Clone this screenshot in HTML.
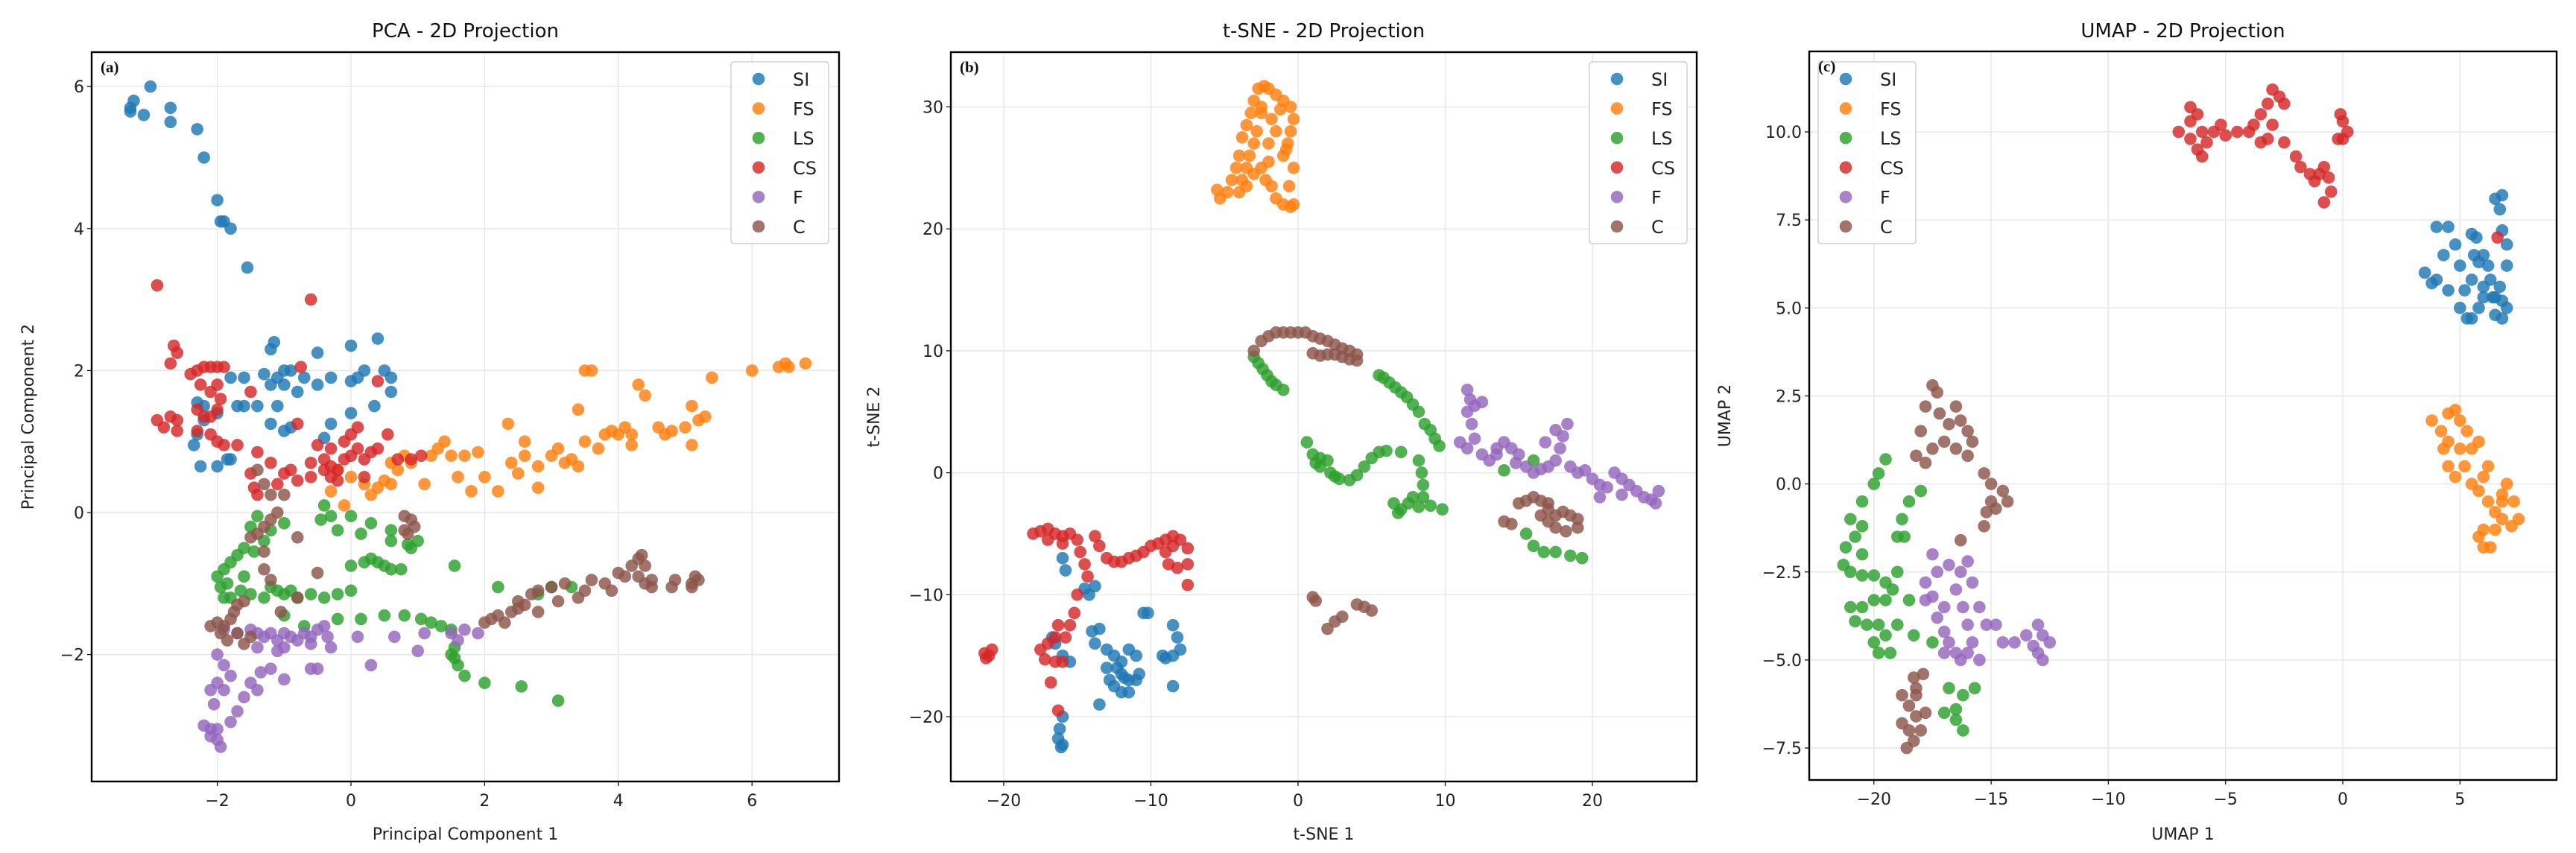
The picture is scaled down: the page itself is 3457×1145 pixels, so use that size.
<!DOCTYPE html>
<html><head><meta charset="utf-8">
<style>
html,body{margin:0;padding:0;background:#fff;}
svg{display:block;font-family:"DejaVu Sans","Liberation Sans",sans-serif;}
</style></head>
<body>
<svg id="fig" width="3457" height="1145" viewBox="0 0 3457 1145" xmlns="http://www.w3.org/2000/svg"></svg>
<script>
const classNames = ["SI","FS","LS","CS","F","C"];
const classColors = ["#1f77b4","#ff7f0e","#2ca02c","#d62728","#9467bd","#8c564b"];

// ---- PCA data ----
const pcaSI = [[-3.3,5.7],[-3.25,5.8],[-3.3,5.65],[-3.0,6.0],[-3.1,5.6],[-2.7,5.7],[-2.7,5.5],[-2.3,5.4],[-2.2,5.0],[-2.0,4.4],[-1.95,4.1],[-1.9,4.1],[-1.8,4.0],[-1.55,3.45],[-1.15,2.4],[-1.2,2.3],[-0.5,2.25],[0,2.35],[0.4,2.45],[-1.3,1.95],[-1.1,1.9],[-1.0,2.0],[-0.9,2.0],[-1.2,1.8],[-1.0,1.8],[-0.8,1.7],[-1.4,1.5],[-1.6,1.5],[-1.7,1.5],[-1.8,1.9],[-1.6,1.9],[-0.7,1.9],[-0.5,1.8],[-0.3,1.9],[0,1.85],[0.1,1.9],[0.2,2.0],[0.5,2.0],[0.6,1.9],[0.6,1.7],[0.35,1.5],[0,1.4],[-0.3,1.25],[-1.2,1.25],[-1.0,1.15],[-0.9,1.2],[-2.3,1.55],[-2.2,1.5],[-2.3,1.1],[-2.35,0.95],[-2.2,1.3],[-2.0,1.4],[-1.85,0.75],[-1.8,0.75],[-2.0,0.65],[-2.25,0.65],[-0.4,1.05],[-1.1,1.5]];
const pcaFS = [[-0.3,0.3],[-0.1,0.1],[0,0.5],[0.2,0.4],[0.3,0.25],[0.4,0.35],[0.5,0.45],[0.6,0.4],[0.7,0.6],[0.8,0.8],[0.6,0.7],[0.9,0.7],[1.1,0.4],[1.2,0.8],[1.3,0.9],[1.4,1.0],[1.5,0.8],[1.6,0.5],[1.7,0.8],[1.8,0.3],[1.9,0.85],[2.0,0.5],[2.2,0.3],[2.35,1.25],[2.4,0.7],[2.5,0.55],[2.6,0.8],[2.6,1.0],[2.8,0.35],[2.8,0.65],[3.0,0.8],[3.1,0.9],[3.2,0.7],[3.3,0.75],[3.4,1.45],[3.5,1.0],[3.4,0.65],[3.5,2.0],[3.6,2.0],[3.7,0.9],[3.8,1.1],[3.9,1.15],[4.0,1.1],[4.1,1.2],[4.2,1.1],[4.2,0.95],[4.3,1.8],[4.4,1.65],[4.6,1.2],[4.7,1.1],[4.8,1.15],[5.0,1.2],[5.1,0.95],[5.1,1.5],[5.2,1.3],[5.3,1.35],[5.4,1.9],[6.0,2.0],[6.4,2.05],[6.5,2.1],[6.55,2.05],[6.8,2.1],[-0.2,0.6]];
const pcaLS = [[-1.4,-0.05],[-1.5,-0.2],[-1.3,-0.4],[-1.6,-0.5],[-1.7,-0.6],[-1.8,-0.7],[-1.9,-0.8],[-2.0,-0.9],[-1.95,-1.05],[-1.9,-1.2],[-1.8,-1.2],[-1.65,-1.1],[-1.5,-1.15],[-1.3,-1.2],[-1.2,-1.05],[-1.1,-1.1],[-1.0,-1.15],[-0.9,-1.1],[-0.8,-1.2],[-0.6,-1.15],[-0.4,-1.2],[-0.2,-1.15],[0,-1.1],[0,-0.75],[0.2,-0.7],[0.3,-0.65],[0.4,-0.7],[0.5,-0.75],[0.6,-0.8],[0.75,-0.8],[0.85,-0.45],[0.9,-0.5],[1.0,-0.4],[0.6,-0.25],[0.6,-0.4],[0.3,-0.15],[0.15,-0.3],[-0.2,-0.25],[-0.4,0.1],[-0.45,-0.1],[-0.3,-0.05],[0,-0.05],[-1.2,-0.25],[-1.0,-0.15],[-0.2,-1.5],[0.15,-1.5],[0.5,-1.45],[0.8,-1.45],[1.05,-1.5],[1.2,-1.55],[1.35,-1.6],[1.5,-1.65],[1.55,-1.9],[1.5,-2.0],[1.55,-2.05],[1.6,-2.15],[1.7,-2.3],[2.0,-2.4],[2.55,-2.45],[3.1,-2.65],[1.55,-0.75],[2.2,-1.05],[2.8,-1.15],[3.0,-1.05],[3.3,-1.05],[-0.7,-1.6],[-1.0,-1.45],[-1.6,-0.9],[-1.45,-0.55],[-1.85,-1.0]];
const pcaCS = [[-2.9,3.2],[-0.6,3.0],[-2.65,2.35],[-2.7,2.1],[-2.6,2.25],[-2.4,1.95],[-2.3,2.0],[-2.2,2.05],[-2.1,2.05],[-2.0,2.05],[-1.9,2.05],[-2.25,1.8],[-2.1,1.7],[-2.0,1.8],[-1.95,1.6],[-2.3,1.45],[-2.2,1.35],[-2.1,1.35],[-2.0,1.45],[-2.9,1.3],[-2.8,1.2],[-2.7,1.35],[-2.6,1.3],[-2.6,1.15],[-2.3,1.15],[-2.1,1.1],[-2.0,1.0],[-1.9,0.95],[-1.7,0.95],[-1.4,0.85],[-1.5,1.7],[-1.4,0.25],[-1.45,0.35],[-1.2,0.7],[-1.0,0.55],[-0.9,0.6],[-0.8,0.45],[-0.6,0.5],[-0.4,0.6],[-0.3,0.65],[-0.2,0.6],[-0.4,0.75],[-0.3,0.5],[-0.1,0.75],[0,0.8],[0.1,0.9],[0.2,0.75],[0.3,0.85],[0,1.1],[0.1,1.2],[-0.1,1.0],[-0.3,0.9],[0.4,0.9],[0.55,1.1],[0.7,0.75],[0.9,0.75],[1.05,0.8],[0.4,1.85],[-0.8,1.25],[-0.75,2.05],[-0.5,0.95],[-0.6,0.7],[0.2,0.5],[-0.2,0.45],[-1.1,0.4],[-1.5,0.55]];
const pcaF = [[-1.9,-1.65],[-1.7,-1.7],[-1.5,-1.65],[-1.4,-1.7],[-1.3,-1.75],[-1.2,-1.7],[-1.1,-1.8],[-1.0,-1.7],[-0.9,-1.75],[-0.8,-1.8],[-0.7,-1.7],[-0.6,-1.75],[-0.5,-1.65],[-0.4,-1.6],[-0.35,-1.75],[-0.3,-1.9],[-0.6,-1.85],[-1.0,-1.9],[-1.1,-1.95],[-1.4,-1.9],[0.1,-1.75],[0.65,-1.75],[1.1,-1.7],[1.5,-1.7],[1.6,-1.8],[1.7,-1.65],[1.9,-1.7],[1.0,-1.95],[0.3,-2.15],[-0.6,-2.2],[-0.5,-2.2],[-1.0,-2.35],[-1.2,-2.2],[-1.35,-2.25],[-1.5,-2.4],[-1.4,-2.5],[-1.6,-2.6],[-1.7,-2.8],[-1.8,-2.95],[-1.8,-2.3],[-1.9,-2.15],[-2.0,-2.0],[-2.0,-2.4],[-2.1,-2.5],[-2.05,-2.7],[-2.2,-3.0],[-2.1,-3.05],[-2.0,-3.05],[-2.0,-3.2],[-1.95,-3.3],[-2.1,-3.15],[-1.9,-2.5]];
const pcaC = [[-1.4,0.6],[-1.3,0.4],[-1.2,0.25],[-1.0,0.25],[-1.1,0.0],[-1.2,-0.1],[-1.3,-0.2],[-1.4,-0.3],[-1.5,-0.35],[-1.3,-0.55],[-0.8,-0.35],[-0.5,-0.85],[-1.3,-0.8],[-1.2,-0.95],[-0.8,-1.2],[-1.05,-1.4],[-1.6,-1.25],[-1.7,-1.3],[-1.75,-1.4],[-1.8,-1.5],[-2.0,-1.55],[-2.1,-1.6],[-1.9,-1.6],[-1.85,-1.8],[-1.7,-1.7],[-1.6,-1.85],[-1.5,-1.75],[-1.95,-1.7],[0.8,-0.05],[0.9,-0.1],[0.85,-0.3],[0.95,-0.2],[0.8,-0.25],[2.0,-1.55],[2.1,-1.5],[2.2,-1.45],[2.3,-1.55],[2.4,-1.4],[2.5,-1.35],[2.6,-1.3],[2.7,-1.15],[2.8,-1.1],[2.8,-1.4],[3.0,-1.05],[3.1,-1.25],[3.2,-1.0],[3.4,-1.2],[3.5,-1.1],[3.6,-0.95],[3.8,-1.0],[3.9,-1.1],[4.0,-0.85],[4.1,-0.9],[4.2,-0.75],[4.3,-0.65],[4.35,-0.6],[4.4,-0.75],[4.4,-1.0],[4.5,-0.95],[4.5,-1.05],[4.3,-0.9],[4.8,-1.05],[4.85,-0.95],[5.1,-1.0],[5.15,-0.9],[5.2,-0.95],[5.1,-1.05],[2.5,-1.25]];
const pcaXTicks = [-2,0,2,4,6];
const pcaYTicks = [-2,0,2,4,6];

// ---- t-SNE data ----
const tsneSI = [[-16,-7],[-15.8,-8],[-14.5,-9.5],[-14.2,-10],[-13.8,-9.3],[-14,-13],[-13.5,-12.8],[-13.8,-14],[-13,-14.5],[-12.5,-15],[-12,-15.5],[-11.5,-14.5],[-11,-15],[-12,-16.5],[-11.5,-17],[-12.5,-17.5],[-11,-17],[-10.8,-16.5],[-13,-16],[-12.8,-17],[-12,-18],[-11.5,-18],[-10.5,-11.5],[-10.2,-11.5],[-8.5,-12.5],[-8.2,-13.5],[-8,-14.5],[-8.5,-15],[-9,-15.2],[-9.2,-15],[-13.5,-19],[-8.5,-17.5],[-16.5,-14],[-16,-15],[-15.5,-15.5],[-16,-20],[-16.2,-21],[-16,-22.3],[-16.1,-22.5],[-16.3,-21.8],[-16.7,-13.5],[-12.3,-16],[-11.8,-16.8]];
const tsneFS = [[-5.5,23.2],[-5.3,22.5],[-4.8,23],[-4.5,24],[-4.2,25],[-4,26],[-3.8,27.5],[-3.5,28.5],[-3.2,29.5],[-3,30.5],[-2.7,31.5],[-2.3,31.7],[-2,31.5],[-1.5,31],[-1,30.5],[-0.5,30],[-0.3,29],[-0.5,28],[-0.7,27],[-0.8,26.5],[-1.5,28],[-1.8,29],[-2.5,29.5],[-2.8,28],[-3,27],[-3.3,26],[-3.5,25],[-3.8,24],[-4,23],[-3.5,23.5],[-3,24.5],[-2.5,25],[-2,25.5],[-2.2,24],[-1.8,23.5],[-1.5,22.5],[-1,22],[-0.5,21.8],[-0.3,22],[-0.6,23.5],[-0.3,25],[-1,26],[-2,27],[-2.5,30],[-1.2,29.8]];
const tsneLS = [[-3,9.5],[-2.7,9],[-2.4,8.5],[-2.1,8],[-1.8,7.5],[-1.5,7.2],[-1,6.8],[5.5,8],[5.8,7.8],[6.2,7.4],[6.6,7],[7,6.6],[7.4,6.2],[7.8,5.6],[8.2,5],[8.6,4],[9,3.5],[9.3,2.8],[9.6,2.2],[0.6,2.5],[1,1.5],[1.5,1.2],[2,1],[1.5,0.5],[2.2,0],[2.8,-0.5],[3.5,-0.6],[4,-0.2],[4.5,0.5],[5,1.2],[5.5,1.7],[6,1.8],[7,1.7],[8.2,1],[8.4,0],[8.5,-1],[8.5,-2],[8.2,-2.8],[7.5,-2.5],[7,-3],[6.5,-2.5],[6.8,-3.3],[7.8,-2],[9,-2.7],[9.8,-3],[15.5,-5],[16,-6],[16.7,-6.5],[17.5,-6.5],[18.5,-6.8],[19.3,-7],[16,1],[14,0.2],[1.2,0.8],[2.5,-0.3]];
const tsneCS = [[-18,-5],[-17.5,-4.8],[-17,-4.6],[-16.5,-5],[-16,-5.2],[-15.5,-5],[-15,-5.5],[-14.8,-6.5],[-14.5,-7.5],[-14.3,-8.5],[-15,-10],[-13.8,-5.2],[-13.5,-6],[-13,-7],[-12.5,-7.3],[-12,-7.3],[-11.5,-7],[-11,-6.8],[-10.5,-6.5],[-10,-6],[-9.5,-5.8],[-9,-5.5],[-8.5,-5.2],[-8,-5.5],[-9,-6.5],[-8.5,-6],[-7.5,-6.2],[-8.2,-7.8],[-8.8,-7.5],[-7.5,-7.5],[-7.5,-9.2],[-15.2,-11.5],[-15.5,-12.5],[-15.8,-13.5],[-16.3,-12.5],[-16.5,-13.5],[-17,-14],[-17.5,-14.5],[-17.2,-15.3],[-16.5,-15.5],[-16,-15.5],[-16.8,-17.2],[-16.3,-19.5],[-21.3,-14.8],[-21,-15],[-20.8,-14.5],[-21.2,-15.2],[-16,-5.8],[-17,-5.5]];
const tsneF = [[11.5,6.8],[11.7,6],[12,5.5],[12.5,5.8],[11.5,5],[11.8,4],[11,2.5],[11.5,2],[12,2.8],[12.5,1.5],[13,1],[13.5,2],[14,2.5],[14.5,2],[15,1.5],[15.5,0.5],[16,0],[16.5,0.3],[17,0.5],[17.5,1],[17.8,2],[18,3],[18.3,4],[17.5,3.5],[16.8,2.5],[18.5,0.5],[19,0],[19.5,0.2],[20,-0.5],[20.5,-1],[21,-1.2],[21.5,0],[22,-0.5],[22.5,-1],[23,-1.5],[23.5,-2],[24,-2.2],[24.5,-1.5],[24.3,-2.5],[20.5,-2],[22,-1.8],[13.5,1.5],[14.8,0.8]];
const tsneC = [[-3,10],[-2.5,10.8],[-2,11.2],[-1.5,11.5],[-1,11.5],[-0.5,11.5],[0,11.5],[0.5,11.5],[1,11.2],[1.5,11],[2,10.8],[2.5,10.5],[3,10.2],[3.5,10],[4,9.7],[4,9.2],[3.5,9.3],[3,9.5],[2.5,9.7],[2,9.7],[1.5,9.6],[1,9.8],[15,-2.5],[15.5,-2.3],[16,-2],[16.5,-2.3],[17,-2.5],[17,-3],[17.5,-3.5],[18,-3.2],[18.5,-3.5],[19,-3.8],[19,-4.5],[18.2,-4.8],[17.5,-4.5],[17,-4],[16.5,-3.5],[14,-4],[14.5,-4.2],[1,-10.2],[1.2,-10.5],[2,-12.8],[2.5,-12.2],[3,-11.8],[4,-10.8],[4.5,-11],[5,-11.3]];
const tsneXTicks = [-20,-10,0,10,20];
const tsneYTicks = [-20,-10,0,10,20,30];

// ---- UMAP data ----
const umapSI = [[3.5,6],[4,5.8],[4,7.3],[4.5,7.3],[4.8,6.8],[5,6.2],[5.2,5.5],[5,5],[5.3,4.7],[5.5,4.7],[5.8,5],[5.5,5.8],[5.6,6.5],[5.7,7],[5.5,7.1],[5.8,6.3],[6,6.5],[6,5.6],[6.3,5.8],[6.5,5.3],[6.8,5.2],[7,5],[6.8,4.7],[6.5,4.8],[6.7,5.6],[7,6.2],[7,6.8],[6.8,7.2],[6.7,7.8],[6.8,8.2],[6.5,8.1],[6.4,5.3],[6,5.3],[4.5,5.5],[4.3,6.5],[6.2,6.2],[3.8,5.7]];
const umapFS = [[3.8,1.8],[4.2,1.5],[4.5,2],[4.8,2.1],[5,1.8],[5.3,1.5],[4.3,1],[4.5,0.5],[4.8,0.2],[5.2,0.5],[5.5,1],[5.8,1.2],[5.5,0],[5.8,-0.2],[6,0.2],[6.2,-0.5],[6.5,-0.8],[6.8,-0.3],[7,0],[7.3,-0.5],[7.5,-1],[7.2,-1.2],[6.8,-1],[6.5,-1.3],[6,-1.3],[5.8,-1.5],[6,-1.8],[6.3,-1.8],[6.8,-0.5],[6.2,0.5],[5,1],[4.5,1.2]];
const umapLS = [[-19.5,0.7],[-19.8,0.3],[-20,0],[-20.5,-0.5],[-21,-1],[-20.8,-1.5],[-21.2,-1.8],[-20.5,-2],[-21,-2.5],[-21.3,-2.3],[-20.5,-2.6],[-20,-2.6],[-19.5,-2.8],[-19,-2.5],[-19.2,-3],[-19.5,-3.3],[-20,-3.3],[-20.5,-3.5],[-21,-3.5],[-20.8,-3.9],[-20.3,-4],[-19.8,-4],[-19.5,-4.3],[-20,-4.5],[-19.8,-4.8],[-19.3,-4.8],[-19,-4],[-18.5,-3.3],[-18.3,-4.3],[-18,-0.2],[-18.5,-0.5],[-18.8,-1],[-18.7,-1.5],[-19,-1.5],[-17.5,-4.5],[-16.8,-5.8],[-16.2,-6],[-15.7,-5.8],[-17,-6.5],[-16.5,-6.7],[-16.2,-7],[-16.5,-6.4],[-20.5,-1.2]];
const umapCS = [[-7,10],[-6.5,10.3],[-6.2,10.5],[-6,10],[-6.5,9.8],[-6.2,9.5],[-5.8,9.7],[-5.5,10],[-5.2,10.2],[-5,9.9],[-4.5,10],[-4,10],[-3.8,10.2],[-3.5,10.5],[-3.2,10.8],[-3,11.2],[-2.7,11],[-2.5,10.8],[-3,10.2],[-3.2,9.8],[-3.5,9.7],[-2.5,9.7],[-2,9.3],[-1.8,9],[-1.4,8.8],[-1,8.8],[-0.8,9],[-0.6,8.7],[-0.5,8.3],[-0.8,8],[-1.2,8.6],[-0.2,9.8],[0,10.3],[0.2,10],[0,9.8],[-0.1,10.5],[6.6,7],[-6,9.3],[-6.5,10.7]];
const umapF = [[-17.5,-2],[-17.3,-2.5],[-17.8,-2.8],[-17.5,-3.2],[-17,-3.5],[-17.3,-3.8],[-17,-4.2],[-16.8,-4.5],[-16.5,-4.8],[-16.3,-5],[-16,-4.8],[-15.8,-4.5],[-16,-4],[-16.2,-3.5],[-16.5,-3],[-16.3,-2.5],[-16,-2.2],[-15.8,-2.8],[-15.5,-3.5],[-15.2,-4],[-14.8,-4],[-14.5,-4.5],[-14,-4.5],[-13.5,-4.3],[-13,-4],[-12.8,-4.3],[-12.5,-4.5],[-13,-4.8],[-12.8,-5],[-13.2,-4.6],[-15.5,-5],[-17,-4.8],[-16.8,-2.3],[-17.8,-3.3]];
const umapC = [[-17.5,2.8],[-17.3,2.6],[-17.8,2.2],[-17.2,2],[-16.5,2.2],[-16.3,1.8],[-16,1.5],[-15.8,1.2],[-16,0.8],[-16.5,1],[-17,1.2],[-17.5,1],[-18,1.5],[-18.2,0.8],[-17.8,0.6],[-16.8,1.7],[-15.3,0.3],[-15,0],[-14.5,-0.2],[-14.3,-0.5],[-14.8,-0.7],[-15.2,-0.8],[-15.3,-1.2],[-15,-0.5],[-16.3,-1.6],[-18.3,-5.5],[-18.8,-6],[-18.5,-6.3],[-18.2,-6],[-18.8,-6.8],[-18.5,-7],[-18.3,-7.3],[-18,-7],[-18.6,-7.5],[-18.2,-5.8],[-17.8,-6.5],[-18.2,-6.6],[-17.9,-5.4]];
const umapXTicks = [-20,-15,-10,-5,0,5];
const umapYTicks = [-7.5,-5.0,-2.5,0.0,2.5,5.0,7.5,10.0];

const NS = "http://www.w3.org/2000/svg";
const svg = document.getElementById("fig");
function mk(tag, attrs, parent){ const e=document.createElementNS(NS,tag); for(const k in attrs) e.setAttribute(k,attrs[k]); (parent||svg).appendChild(e); return e; }

function drawPanel(cfg){
  const g = mk("g",{});
  
  
  const sx = v => cfg.px0 + (v - cfg.x0) * cfg.kx;
  const sy = v => cfg.py0 - (v - cfg.y0) * cfg.ky;
  cfg.xt.forEach(t=>{
    const l = mk("line",{x1:sx(t),x2:sx(t),y1:cfg.top,y2:cfg.bottom,stroke:"#e8e8e8","stroke-width":1.5},g);
    
    
  });
  cfg.yt.forEach(t=>{
    const l = mk("line",{x1:cfg.left,x2:cfg.right,y1:sy(t),y2:sy(t),stroke:"#e8e8e8","stroke-width":1.5},g);
    
    
  });
  cfg.series.forEach((pts,ci)=>{
    const sg = mk("g",{fill:classColors[ci],"fill-opacity":0.82},g);
    
    
    pts.forEach(p=>{
      const c = mk("circle",{cx:sx(p[0]),cy:sy(p[1]),r:8.3},sg);
      
      
    });
  });
  const fr = mk("rect",{x:cfg.left,y:cfg.top,width:cfg.right-cfg.left,height:cfg.bottom-cfg.top,fill:"none",stroke:"#000","stroke-width":2.4},g);
  
  
  cfg.xt.forEach(t=>{
    mk("line",{x1:sx(t),x2:sx(t),y1:cfg.bottom,y2:cfg.bottom+6,stroke:"#000","stroke-width":1.2},g);
    const tx = mk("text",{x:sx(t),y:cfg.bottom+33,"text-anchor":"middle","font-size":22,fill:"#222"},g);
    tx.textContent = String(t).replace("-","\u2212");
    
    
  });
  cfg.yt.forEach(t=>{
    mk("line",{x1:cfg.left-6,x2:cfg.left,y1:sy(t),y2:sy(t),stroke:"#000","stroke-width":1.2},g);
    const tx = mk("text",{x:cfg.left-10,y:sy(t)+8,"text-anchor":"end","font-size":22,fill:"#222"},g);
    tx.textContent = (cfg.yfmt ? t.toFixed(1) : String(t)).replace("-","\u2212");
    
    
  });
  const cx = (cfg.left+cfg.right)/2, cy=(cfg.top+cfg.bottom)/2;
  const ti = mk("text",{x:cx,y:50,"text-anchor":"middle","font-size":26,fill:"#111"},g);
  ti.textContent = cfg.title;
  
  
  const xl = mk("text",{x:cx,y:1127,"text-anchor":"middle","font-size":22,fill:"#222"},g);
  xl.textContent = cfg.xlabel;
  
  
  const yl = mk("text",{x:0,y:0,"text-anchor":"middle","font-size":22,fill:"#222",transform:`translate(${cfg.ylx},${cy}) rotate(-90)`},g);
  yl.textContent = cfg.ylabel;
  
  
  const lg = mk("g",{},g);
  
  
  mk("rect",{x:cfg.lgx,y:83,width:131,height:244,rx:4,fill:"#fff","fill-opacity":0.85,stroke:"#d0d0d0","stroke-width":1.5},lg);
  classNames.forEach((n,i)=>{
    const yy = 106 + i*39.6;
    const e = mk("g",{},lg);
    
    
    mk("circle",{cx:cfg.lgx+37,cy:yy,r:8.3,fill:classColors[i],"fill-opacity":0.82},e);
    const t = mk("text",{x:cfg.lgx+83,y:yy+9,"font-size":24,fill:"#222"},e);
    t.textContent = n;
  });
  const pl = mk("text",{x:cfg.left+12,y:cfg.top+27,"font-size":21,"font-family":"Liberation Serif, serif","font-weight":"bold",fill:"#111"},g);
  pl.textContent = cfg.letter;
  
  
}

drawPanel({id:"pca",title:"PCA - 2D Projection",xlabel:"Principal Component 1",ylabel:"Principal Component 2",letter:"(a)",
  left:123,right:1126,top:70,bottom:1049,px0:471,x0:0,kx:89.7,py0:688,y0:0,ky:95.3,
  xt:pcaXTicks,yt:pcaYTicks,ylx:45,lgx:981,series:[pcaSI,pcaFS,pcaLS,pcaCS,pcaF,pcaC]});
drawPanel({id:"tsne",title:"t-SNE - 2D Projection",xlabel:"t-SNE 1",ylabel:"t-SNE 2",letter:"(b)",
  left:1276,right:2277,top:70,bottom:1049,px0:1742,x0:0,kx:19.75,py0:634.6,y0:0,ky:16.37,
  xt:tsneXTicks,yt:tsneYTicks,ylx:1180,lgx:2133,series:[tsneSI,tsneFS,tsneLS,tsneCS,tsneF,tsneC]});
drawPanel({id:"umap",title:"UMAP - 2D Projection",xlabel:"UMAP 1",ylabel:"UMAP 2",letter:"(c)",yfmt:true,
  left:2428,right:3431,top:69,bottom:1047,px0:3144,x0:0,kx:31.46,py0:649.6,y0:0,ky:47.26,
  xt:umapXTicks,yt:umapYTicks,ylx:2322,lgx:2440,series:[umapSI,umapFS,umapLS,umapCS,umapF,umapC]});
</script>
</body></html>
